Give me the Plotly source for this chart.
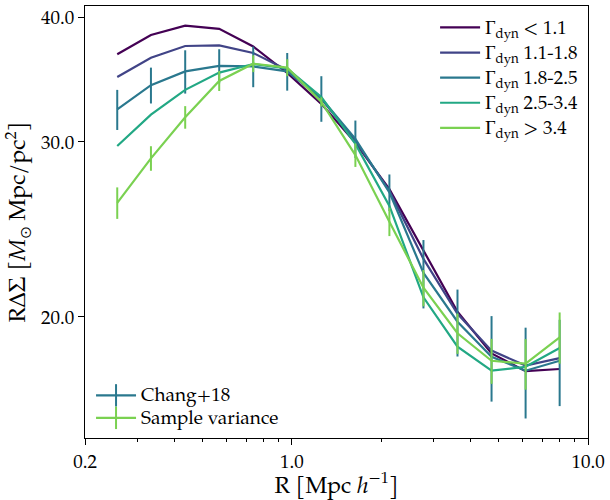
import plotly.graph_objects as go

# Radial bins [Mpc/h]
R = [0.257, 0.334, 0.436, 0.568, 0.740, 0.964, 1.257, 1.638, 2.134, 2.781, 3.624, 4.723, 6.155, 8.021]

labels = ["Γ<sub>dyn</sub> &lt; 1.1", "Γ<sub>dyn</sub> 1.1-1.8", "Γ<sub>dyn</sub> 1.8-2.5",
          "Γ<sub>dyn</sub> 2.5-3.4", "Γ<sub>dyn</sub> &gt; 3.4"]
colors = ["#440154", "#414487", "#2a788e", "#22a884", "#7ad151"]

g1 = [36.75, 38.43, 39.27, 38.98, 37.42, 35.19, 32.76, 29.93, 26.89, 23.31, 20.24, 18.38, 17.64, 17.73]
g2 = [34.87, 36.46, 37.46, 37.51, 36.86, 35.44, 33.15, 30.07, 26.78, 22.88, 20.15, 18.50, 17.87, 18.18]
g3 = [32.34, 34.21, 35.32, 35.77, 35.73, 35.32, 33.18, 30.21, 26.69, 22.15, 19.78, 18.24, 17.66, 18.07]
g4 = [29.72, 31.95, 33.84, 35.22, 35.93, 35.56, 33.29, 29.86, 25.87, 20.93, 18.67, 17.66, 17.82, 18.61]
g5 = [26.05, 28.88, 31.76, 34.55, 35.96, 35.63, 32.91, 29.10, 24.94, 21.40, 19.26, 18.07, 17.95, 19.08]

err_chang = [1.50, 1.42, 1.77, 1.41, 1.68, 1.54, 1.75, 1.31, 1.13, 1.75, 1.53, 1.80, 1.85, 1.80]
err_sv = [0.95, 0.82, 0.83, 0.80, 0.70, 0.70, 0.35, 0.79, 0.82, 0.90, 0.90, 0.94, 1.05, 1.13]

err_labels = ["Chang+18", "Sample variance"]

series = [g1, g2, g3, g4, g5]

FONT = "Palatino Linotype, Palatino, TeX Gyre Pagella, Liberation Serif, serif"


def big(t):
    return '<span style="font-size:19px">' + t + '</span>'


fig = go.Figure()
for i, (ys, lab, col) in enumerate(zip(series, labels, colors)):
    err = None
    if i == 2:
        err = dict(type="data", array=err_chang, color=col, thickness=2, width=0)
    elif i == 4:
        err = dict(type="data", array=err_sv, color=col, thickness=2, width=0)
    fig.add_trace(go.Scatter(x=R, y=ys, mode="lines", name=big(lab),
                             line=dict(color=col, width=2.2),
                             error_y=err, legend="legend"))

# legend-only entries for the error-bar legend
for lab, col in zip(err_labels, [colors[2], colors[4]]):
    fig.add_trace(go.Scatter(x=[None], y=[None], mode="lines+markers", name=big(lab),
                             line=dict(color=col, width=2.2),
                             marker=dict(symbol="line-ns", size=16,
                                         line=dict(color=col, width=2)),
                             legend="legend2"))

x_minor = [0.3, 0.4, 0.5, 0.6, 0.7, 0.8, 0.9, 2, 3, 4, 5, 6, 7, 8, 9]

fig.update_layout(
    width=610, height=500,
    margin=dict(l=85, r=18, t=5, b=62),
    paper_bgcolor="white", plot_bgcolor="white",
    font=dict(family=FONT, size=19, color="black"),
    legend=dict(x=0.696, y=0.991, xanchor="left", yanchor="top",
                bgcolor="rgba(0,0,0,0)", borderwidth=0, tracegroupgap=0,
                itemwidth=40, font=dict(size=17)),
    legend2=dict(x=0.012, y=0.009, xanchor="left", yanchor="bottom",
                 bgcolor="rgba(0,0,0,0)", borderwidth=0, tracegroupgap=0,
                 itemwidth=40, font=dict(size=15)),
    xaxis=dict(type="log", range=[-0.69897, 1.0],
               tickvals=[0.2, 1.0, 10.0], ticktext=["0.2", "1.0", "10.0"],
               ticks="outside", ticklen=6, tickwidth=1, tickcolor="black",
               minor=dict(tickvals=x_minor, ticks="outside", ticklen=3,
                          tickwidth=1, tickcolor="black", showgrid=False),
               showline=True, linecolor="black", linewidth=1, mirror=True,
               showgrid=False, zeroline=False,
               title=dict(text="R [Mpc <i>h</i><sup>−1</sup>]", standoff=4)),
    yaxis=dict(type="log", range=[1.1793, 1.6138],
               tickvals=[20, 30, 40], ticktext=["20.0", "30.0", "40.0"],
               ticks="outside", ticklen=6, tickwidth=1, tickcolor="black",
               showline=True, linecolor="black", linewidth=1, mirror=True,
               showgrid=False, zeroline=False,
               title=dict(text="RΔΣ [<i>M</i><sub>⊙</sub> Mpc/pc<sup>2</sup>]", standoff=8)),
)

fig.write_html("out.html")
